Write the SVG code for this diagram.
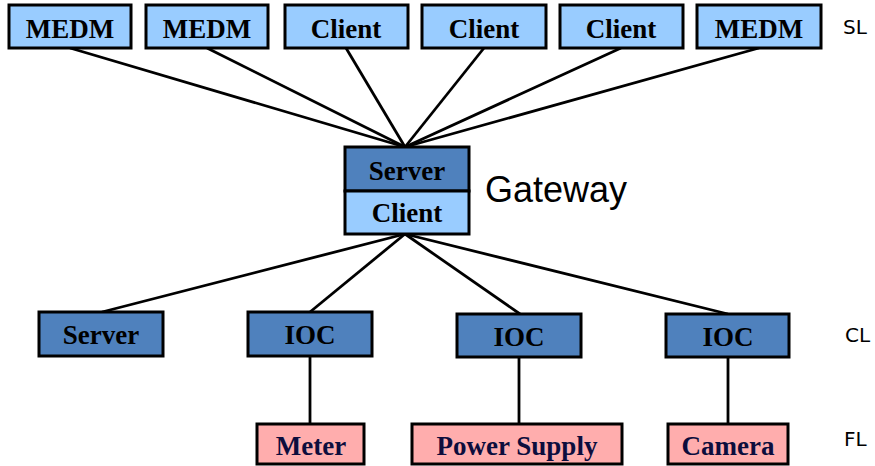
<svg xmlns="http://www.w3.org/2000/svg" width="875" height="466" viewBox="0 0 875 466">
  <style>
    .box { stroke: #000; stroke-width: 3; }
    .light { fill: #99ccff; }
    .dark { fill: #4f81bd; }
    .pink { fill: #ffadad; }
    .lbl { font-family: "Liberation Serif", "Times New Roman", serif; font-weight: bold; font-size: 27px; text-anchor: middle; fill: #000; }
    .dev { fill: #0d0d3d; }
    .tier { font-family: "DejaVu Sans", Verdana, sans-serif; font-size: 20px; fill: #000; }
    .gw { font-family: "Liberation Sans", Arial, sans-serif; font-size: 36px; fill: #000; }
    .wire { stroke: #000; stroke-width: 2.8; fill: none; }
  </style>

  <!-- connectors -->
  <g id="connectors">
    <line class="wire" x1="70" y1="48" x2="405" y2="147"/>
    <line class="wire" x1="207" y1="48" x2="405" y2="147"/>
    <line class="wire" x1="346" y1="48" x2="405" y2="147"/>
    <line class="wire" x1="484" y1="48" x2="405" y2="147"/>
    <line class="wire" x1="621" y1="48" x2="405" y2="147"/>
    <line class="wire" x1="759" y1="48" x2="405" y2="147"/>
    <line class="wire" x1="405" y1="234" x2="102" y2="312"/>
    <line class="wire" x1="405" y1="234" x2="310" y2="312"/>
    <line class="wire" x1="405" y1="234" x2="520" y2="314"/>
    <line class="wire" x1="405" y1="234" x2="728" y2="314"/>
    <line class="wire" x1="310" y1="356" x2="310" y2="424"/>
    <line class="wire" x1="519" y1="357" x2="519" y2="424"/>
    <line class="wire" x1="728" y1="357" x2="728" y2="424"/>
  </g>

  <!-- top row -->
  <g id="medm1"><rect class="box light" x="9" y="5" width="122" height="43"/><text class="lbl" x="70" y="38">MEDM</text></g>
  <g id="medm2"><rect class="box light" x="146" y="5" width="122" height="43"/><text class="lbl" x="207" y="38">MEDM</text></g>
  <g id="client1"><rect class="box light" x="285" y="5" width="123" height="43"/><text class="lbl" x="346" y="38">Client</text></g>
  <g id="client2"><rect class="box light" x="422" y="5" width="124" height="43"/><text class="lbl" x="484" y="38">Client</text></g>
  <g id="client3"><rect class="box light" x="560" y="5" width="123" height="43"/><text class="lbl" x="621" y="38">Client</text></g>
  <g id="medm3"><rect class="box light" x="697" y="5" width="124" height="43"/><text class="lbl" x="759" y="38">MEDM</text></g>
  <text class="tier" x="843" y="34">SL</text>

  <!-- gateway -->
  <g id="gateway">
    <rect class="box dark" x="345" y="147" width="124" height="44"/>
    <rect class="box light" x="345" y="191" width="124" height="43"/>
    <text class="lbl" x="407" y="180">Server</text>
    <text class="lbl" x="407" y="222">Client</text>
    <text class="gw" x="485" y="202">Gateway</text>
  </g>

  <!-- channel access row -->
  <g id="server"><rect class="box dark" x="39" y="312" width="124" height="44"/><text class="lbl" x="101" y="344">Server</text></g>
  <g id="ioc1"><rect class="box dark" x="248" y="312" width="124" height="44"/><text class="lbl" x="310" y="344">IOC</text></g>
  <g id="ioc2"><rect class="box dark" x="457" y="314" width="124" height="43"/><text class="lbl" x="519" y="346">IOC</text></g>
  <g id="ioc3"><rect class="box dark" x="666" y="314" width="123" height="43"/><text class="lbl" x="728" y="346">IOC</text></g>
  <text class="tier" x="845" y="342">CL</text>

  <!-- field devices -->
  <g id="meter"><rect class="box pink" x="257" y="424" width="107" height="40"/><text class="lbl dev" x="311" y="455">Meter</text></g>
  <g id="power-supply"><rect class="box pink" x="412" y="424" width="210" height="40"/><text class="lbl dev" x="517" y="455">Power Supply</text></g>
  <g id="camera"><rect class="box pink" x="668" y="424" width="120" height="40"/><text class="lbl dev" x="728" y="455">Camera</text></g>
  <text class="tier" x="844" y="446">FL</text>
</svg>
